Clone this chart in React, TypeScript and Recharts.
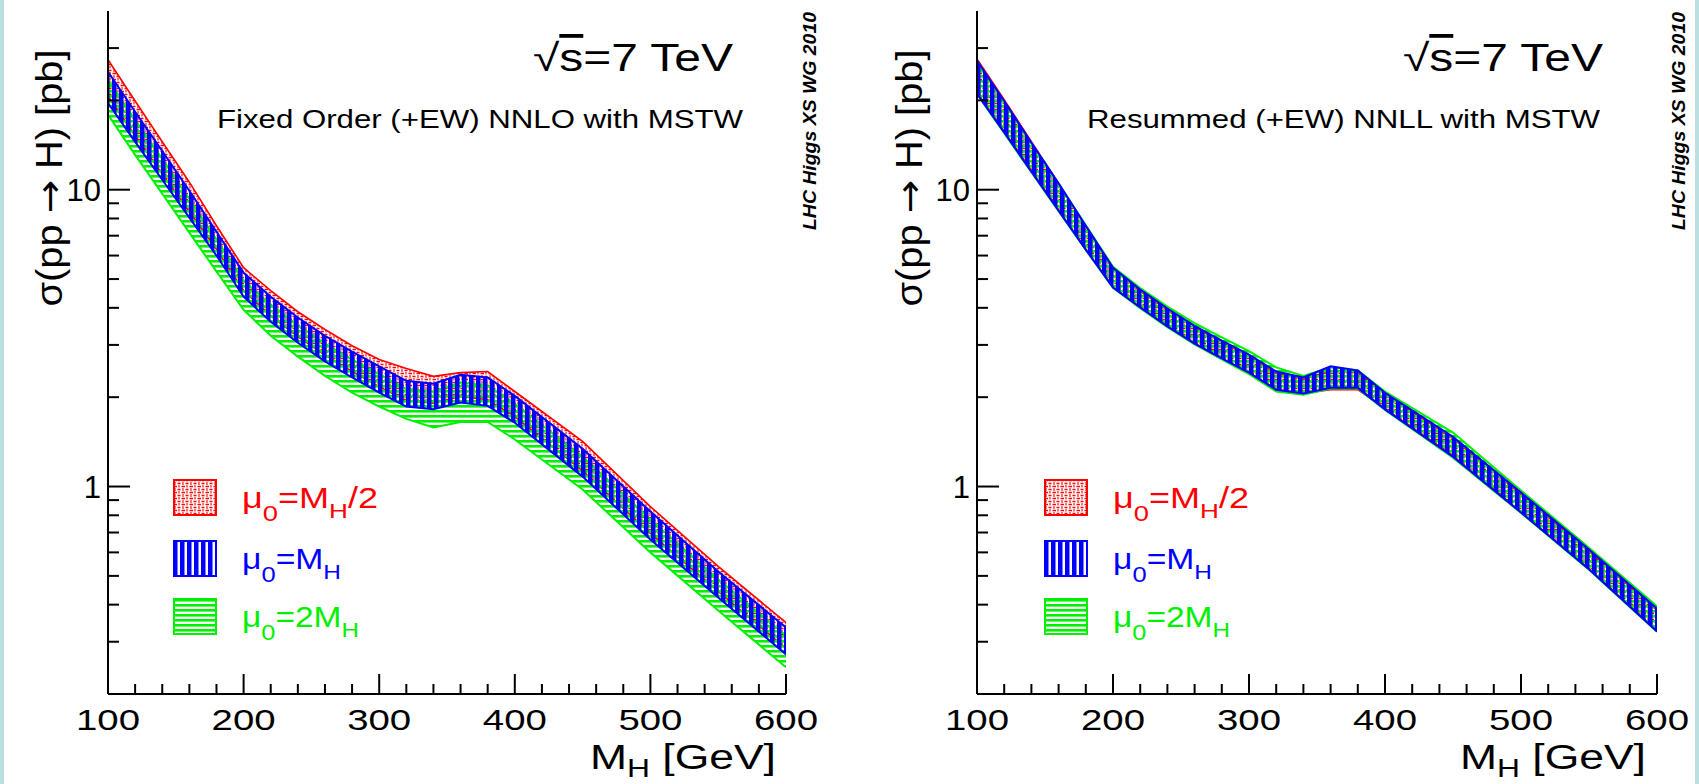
import { ComposedChart, Area, XAxis, YAxis, Legend } from 'recharts'

const massPoints = [100, 120, 140, 160, 180, 200, 220, 240, 260, 280, 300, 320, 340, 360, 380, 400, 450, 500, 550, 600]

// left panel: fixed order (+EW) NNLO with MSTW, sigma in pb
const foHalfHi = [27.4, 19.9, 14.5, 10.6, 7.56, 5.46, 4.57, 3.88, 3.38, 2.98, 2.68, 2.5, 2.35, 2.42, 2.44, 2.09, 1.42, 0.856, 0.538, 0.348]
const foHalfLo = [20.6, 15.2, 11.3, 8.45, 6.3, 4.57, 3.76, 3.2, 2.77, 2.44, 2.17, 1.95, 1.91, 2.01, 1.96, 1.72, 1.13, 0.695, 0.443, 0.285]
const foNomHi = [24.96, 18.3, 13.5, 9.92, 7.22, 5.25, 4.36, 3.71, 3.22, 2.85, 2.54, 2.27, 2.22, 2.38, 2.33, 2.02, 1.34, 0.824, 0.517, 0.335]
const foNomLo = [19.6, 14.5, 10.8, 8.05, 6.0, 4.36, 3.59, 3.05, 2.64, 2.33, 2.07, 1.86, 1.82, 1.92, 1.87, 1.64, 1.08, 0.663, 0.423, 0.272]
const foDblHi = [23.4, 17.2, 12.7, 9.3, 6.8, 4.93, 4.1, 3.49, 3.03, 2.68, 2.39, 2.13, 2.09, 2.24, 2.19, 1.9, 1.26, 0.775, 0.486, 0.315]
const foDblLo = [17.9, 13.1, 9.69, 7.17, 5.3, 3.94, 3.22, 2.74, 2.36, 2.07, 1.86, 1.69, 1.58, 1.65, 1.65, 1.44, 0.977, 0.6, 0.382, 0.246]

// right panel: resummed (+EW) NNLL with MSTW
const resHalfHi = [27.6, 20.1, 14.5, 10.5, 7.5, 5.4, 4.55, 3.93, 3.44, 3.06, 2.74, 2.41, 2.3, 2.46, 2.42, 2.05, 1.45, 0.94, 0.605, 0.383]
const resHalfLo = [21.3, 15.7, 11.6, 8.55, 6.3, 4.7, 4.03, 3.47, 3.04, 2.7, 2.42, 2.12, 2.06, 2.12, 2.12, 1.83, 1.27, 0.82, 0.528, 0.327]
const resNomHi = [27.2, 19.9, 14.4, 10.5, 7.56, 5.46, 4.61, 3.98, 3.48, 3.1, 2.78, 2.44, 2.33, 2.54, 2.46, 2.07, 1.47, 0.954, 0.614, 0.388]
const resNomLo = [21.05, 15.6, 11.5, 8.5, 6.28, 4.68, 4.01, 3.46, 3.03, 2.7, 2.42, 2.12, 2.06, 2.15, 2.15, 1.82, 1.26, 0.818, 0.526, 0.325]
const resDblHi = [26.9, 19.7, 14.3, 10.45, 7.58, 5.5, 4.66, 4.04, 3.55, 3.18, 2.86, 2.52, 2.36, 2.52, 2.46, 2.09, 1.52, 0.97, 0.622, 0.395]
const resDblLo = [21.0, 15.5, 11.45, 8.47, 6.27, 4.67, 3.99, 3.44, 3.01, 2.68, 2.39, 2.09, 2.04, 2.14, 2.14, 1.81, 1.25, 0.815, 0.524, 0.324]

// axis ticks
const xTicks = [100, 120, 140, 160, 180, 200, 220, 240, 260, 280, 300, 320, 340, 360, 380, 400, 420, 440, 460, 480, 500, 520, 540, 560, 580, 600]
const xLabels = [100, 200, 300, 400, 500, 600]
const yTicks = [0.2, 0.3, 0.4, 0.5, 0.6, 0.7, 0.8, 0.9, 1, 2, 3, 4, 5, 6, 7, 8, 9, 10, 20, 30]
const yLabels = [1, 10]

const RED = '#ff0000'
const BLUE = '#0000ff'
const GREEN = '#00f000'
const FONT = '"Liberation Sans", Arial, Helvetica, sans-serif'

const fixedRows = massPoints.map((mh, i) => ({
  mh,
  half: [foHalfLo[i], foHalfHi[i]],
  nom: [foNomLo[i], foNomHi[i]],
  dbl: [foDblLo[i], foDblHi[i]],
}))

const resumRows = massPoints.map((mh, i) => ({
  mh,
  half: [resHalfLo[i], resHalfHi[i]],
  nom: [resNomLo[i], resNomHi[i]],
  dbl: [resDblLo[i], resDblHi[i]],
}))

function Hatches({ id }: { id: string }) {
  return (
    <defs>
      <pattern id={`${id}-half`} patternUnits="userSpaceOnUse" width={8} height={6}>
        <path d="M0.5 1.5 L4 1.5 M4.5 4.5 L7.5 4.5" stroke={RED} strokeWidth={1.6} />
        <path d="M6 0 L6 2.5 M2 3 L2 6" stroke={RED} strokeWidth={1.1} />
      </pattern>
      <pattern id={`${id}-nom`} patternUnits="userSpaceOnUse" width={7} height={8}>
        <rect x={0} y={0} width={4.5} height={8} fill={BLUE} />
      </pattern>
      <pattern id={`${id}-dbl`} patternUnits="userSpaceOnUse" width={8} height={5}>
        <rect x={0} y={0} width={8} height={2.6} fill={GREEN} />
      </pattern>
    </defs>
  )
}

const BottomTick = (p: any) => {
  const v = p.payload.value
  const major = xLabels.includes(v)
  return (
    <g>
      <line x1={p.x} x2={p.x} y1={p.y} y2={p.y - (major ? 20 : 10)} stroke="#000" strokeWidth={2} />
      {major && (
        <text x={p.x} y={p.y + 36} textAnchor="middle" fontSize={30} fontFamily={FONT} fill="#000"
          textLength={64} lengthAdjust="spacingAndGlyphs">{v}</text>
      )}
    </g>
  )
}

const TopTick = (p: any) => {
  const major = xLabels.includes(p.payload.value)
  return <line x1={p.x} x2={p.x} y1={p.y} y2={p.y + (major ? 20 : 10)} stroke="#000" strokeWidth={2} />
}

const LeftTick = (p: any) => {
  const v = p.payload.value
  const major = yLabels.includes(v)
  return (
    <g>
      <line x1={p.x} x2={p.x + (major ? 22 : 11)} y1={p.y} y2={p.y} stroke="#000" strokeWidth={2} />
      {major && (
        <text x={p.x - 7} y={p.y + 11} textAnchor="end" fontSize={31} fontFamily={FONT} fill="#000">{v}</text>
      )}
    </g>
  )
}

const RightTick = (p: any) => {
  const major = yLabels.includes(p.payload.value)
  return <line x1={p.x} x2={p.x - (major ? 22 : 11)} y1={p.y} y2={p.y} stroke="#000" strokeWidth={2} />
}

const legendOrder = ['half', 'nom', 'dbl']
const legendRowY = [0, 61, 119]

function LegendLabel({ k, y }: { k: string; y: number }) {
  if (k === 'half') {
    return (
      <text x={69} y={y} fontSize={29} fill={RED} fontFamily={FONT} textLength={136} lengthAdjust="spacingAndGlyphs">
        μ<tspan fontSize={22} dy={13}>0</tspan><tspan dy={-13}>=M</tspan><tspan fontSize={21} dy={10}>H</tspan><tspan dy={-10}>/2</tspan>
      </text>
    )
  }
  if (k === 'nom') {
    return (
      <text x={69} y={y} fontSize={29} fill={BLUE} fontFamily={FONT} textLength={99} lengthAdjust="spacingAndGlyphs">
        μ<tspan fontSize={22} dy={13}>0</tspan><tspan dy={-13}>=M</tspan><tspan fontSize={21} dy={10}>H</tspan>
      </text>
    )
  }
  return (
    <text x={69} y={y} fontSize={29} fill={GREEN} fontFamily={FONT} textLength={117} lengthAdjust="spacingAndGlyphs">
      μ<tspan fontSize={22} dy={13}>0</tspan><tspan dy={-13}>=2M</tspan><tspan fontSize={21} dy={10}>H</tspan>
    </text>
  )
}

function BandLegend({ payload, id }: any) {
  const rows = legendOrder
    .map((k) => (payload || []).find((e: any) => e.dataKey === k))
    .filter(Boolean)
  return (
    <svg width={260} height={160} style={{ display: 'block', overflow: 'visible' }}>
      <Hatches id={`${id}-leg`} />
      {rows.map((e: any, i: number) => (
        <g key={e.dataKey}>
          <rect x={1} y={legendRowY[i] + 1} width={42} height={35} fill="#fff" />
          <rect x={1} y={legendRowY[i] + 1} width={42} height={35} fill={`url(#${id}-leg-${e.dataKey})`}
            stroke={e.color} strokeWidth={2} />
          <LegendLabel k={e.dataKey} y={legendRowY[i] + 29} />
        </g>
      ))}
    </svg>
  )
}

interface PanelProps {
  id: string
  left: number
  width: number
  plotLeft: number
  marginRight: number
  rows: any[]
  subtitle: string
  subtitleX: number
  subtitleLength: number
  sqrtsX: number
  stampX: number
  yTitleX: number
  xTitleX: number
  legendX: number
}

function Panel(props: PanelProps) {
  const { id, left, width, plotLeft, marginRight, rows } = props
  return (
    <div style={{ position: 'absolute', left, top: 0, width, height: 784 }}>
      <ComposedChart width={width} height={784} data={rows} margin={{ top: 11, right: marginRight, bottom: 0, left: 0 }}>
        <Hatches id={id} />
        <XAxis xAxisId="b" dataKey="mh" type="number" domain={[100, 600]} allowDataOverflow ticks={xTicks}
          interval={0} height={90} tickSize={0} tickMargin={0} tickLine={false} tick={BottomTick}
          axisLine={{ stroke: '#000', strokeWidth: 2 }} />
        <XAxis xAxisId="t" orientation="top" dataKey="mh" type="number" domain={[100, 600]} allowDataOverflow
          ticks={xTicks} interval={0} height={0} tickSize={0} tickMargin={0} tickLine={false} tick={TopTick}
          axisLine={{ stroke: '#000', strokeWidth: 2 }} />
        <YAxis yAxisId="l" type="number" scale="log" domain={[0.2, 40]} allowDataOverflow ticks={yTicks}
          interval={0} width={plotLeft} tickSize={0} tickMargin={0} tickLine={false} tick={LeftTick}
          axisLine={{ stroke: '#000', strokeWidth: 2 }} />
        <YAxis yAxisId="r" orientation="right" type="number" scale="log" domain={[0.2, 40]} allowDataOverflow
          ticks={yTicks} interval={0} width={0} tickSize={0} tickMargin={0} tickLine={false} tick={RightTick}
          axisLine={{ stroke: '#000', strokeWidth: 2 }} />
        <Area xAxisId="b" yAxisId="l" type="linear" dataKey="half" name="μ0=MH/2" stroke={RED} strokeWidth={1.6}
          fill={`url(#${id}-half)`} fillOpacity={1} dot={false} activeDot={false} isAnimationActive={false} />
        <Area xAxisId="b" yAxisId="l" type="linear" dataKey="dbl" name="μ0=2MH" stroke={GREEN} strokeWidth={2}
          fill={`url(#${id}-dbl)`} fillOpacity={1} dot={false} activeDot={false} isAnimationActive={false} />
        <Area xAxisId="b" yAxisId="l" type="linear" dataKey="nom" name="μ0=MH" stroke={BLUE} strokeWidth={2}
          fill={`url(#${id}-nom)`} fillOpacity={1} dot={false} activeDot={false} isAnimationActive={false} />
        <Legend layout="horizontal" verticalAlign="middle" align="center"
          wrapperStyle={{ left: props.legendX, top: 479, width: 260, height: 160 }}
          content={(lp: any) => <BandLegend payload={lp.payload} id={id} />} />
      </ComposedChart>
      <svg width={width} height={784} style={{ position: 'absolute', left: 0, top: 0, pointerEvents: 'none' }}
        fontFamily={FONT}>
        <text x={props.sqrtsX} y={71} fontSize={38} fill="#000" textLength={200} lengthAdjust="spacingAndGlyphs">
          √<tspan textDecoration="overline">s</tspan>=7 TeV
        </text>
        <text x={props.subtitleX} y={128} fontSize={25} fill="#000" textLength={props.subtitleLength}
          lengthAdjust="spacingAndGlyphs">{props.subtitle}</text>
        <text transform={`translate(${props.stampX},121) rotate(-90)`} textAnchor="middle" fontSize={19}
          fontWeight="bold" fontStyle="italic" fill="#000" textLength={218} lengthAdjust="spacingAndGlyphs">
          LHC Higgs XS WG 2010
        </text>
        <text transform={`translate(${props.yTitleX},178) rotate(-90)`} textAnchor="middle" fontSize={36}
          fill="#000" textLength={257} lengthAdjust="spacingAndGlyphs">
          σ(pp <tspan fontFamily='"DejaVu Sans", sans-serif'>→</tspan> H) [pb]
        </text>
        <text x={props.xTitleX} y={769} fontSize={35} fill="#000" textLength={186} lengthAdjust="spacingAndGlyphs">
          M<tspan fontSize={25} dy={8}>H</tspan><tspan dy={-8}> [GeV]</tspan>
        </text>
      </svg>
    </div>
  )
}

export default function App() {
  return (
    <div style={{ position: 'absolute', left: 0, top: 0, width: 1699, height: 784, background: '#fff', overflow: 'hidden' }}>
      <div style={{ position: 'absolute', left: 0, top: 0, width: 4, height: 784, background: '#bcdfe2' }} />
      <div style={{ position: 'absolute', right: 0, top: 0, width: 4, height: 784, background: '#bcdfe2' }} />
      <Panel id="fo" left={0} width={850} plotLeft={108} marginRight={64} rows={fixedRows}
        subtitle="Fixed Order (+EW) NNLO with MSTW" subtitleX={217} subtitleLength={526}
        sqrtsX={533} stampX={816} yTitleX={62} xTitleX={590} legendX={173} />
      <Panel id="res" left={850} width={849} plotLeft={127} marginRight={42} rows={resumRows}
        subtitle="Resummed (+EW) NNLL with MSTW" subtitleX={237} subtitleLength={513}
        sqrtsX={553} stampX={835} yTitleX={72} xTitleX={610} legendX={194} />
    </div>
  )
}
